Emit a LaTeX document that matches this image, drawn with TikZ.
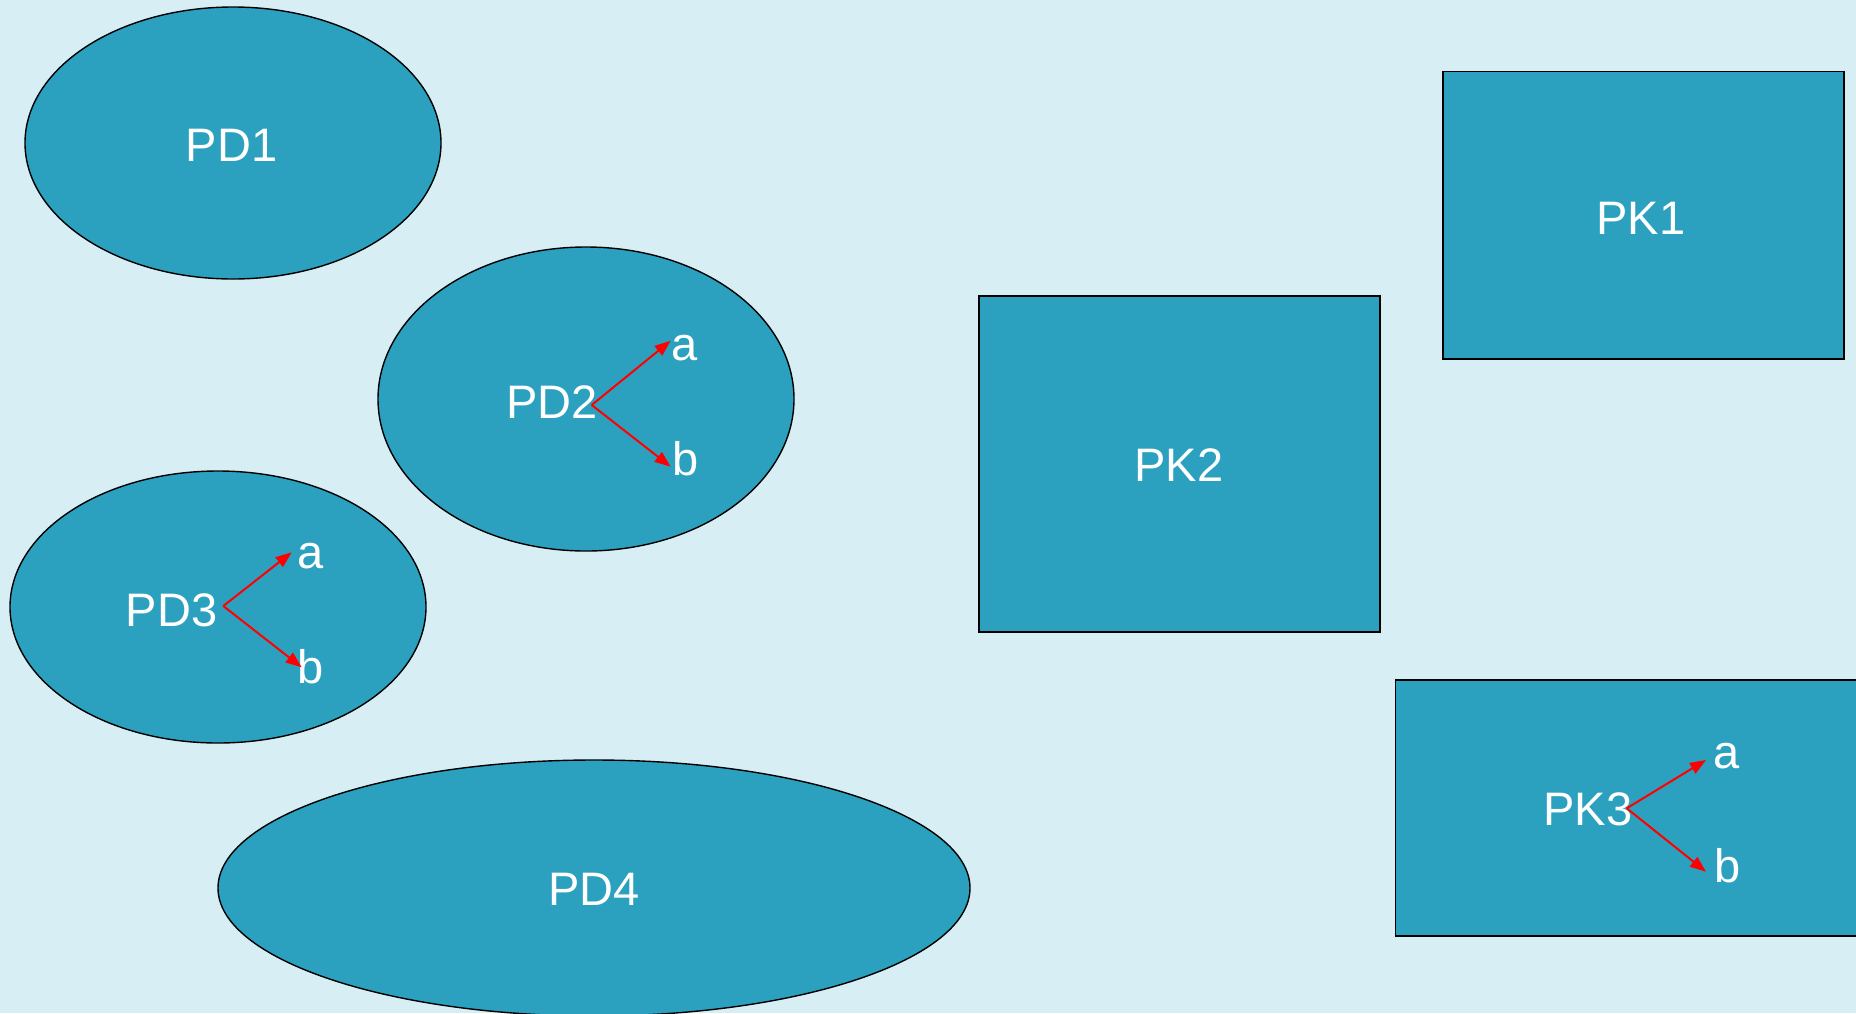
\documentclass[tikz,border=0pt]{standalone}
\usepackage{fontspec}
\setmainfont{Liberation Sans}
\usetikzlibrary{shapes.geometric,arrows.meta}
\definecolor{bgc}{RGB}{214,238,244}
\definecolor{fillc}{RGB}{44,161,191}
\begin{document}
\begin{tikzpicture}[x=1pt,y=-1pt,
  blob/.style={ellipse,draw=black,line width=1.4pt,fill=fillc,inner sep=0pt},
  boxx/.style={draw=black,line width=1.4pt,fill=fillc},
  lbl/.style={anchor=base,inner sep=0pt,text=white,font=\fontsize{47}{50}\selectfont},
  arr/.style={draw=red,line width=2pt,-{Triangle[length=16pt,width=12pt]}}]
\useasboundingbox (0,0) rectangle (1856,1013);
\fill[bgc] (0,0) rectangle (1856,1013);
\begin{scope}
\clip (0,0) rectangle (1856,1013);
% ellipses
\node[blob,minimum width=416pt,minimum height=272pt] (pd1) at (233,143) {};
\node[blob,minimum width=416pt,minimum height=304pt] (pd2) at (586,399) {};
\node[blob,minimum width=416pt,minimum height=272pt] (pd3) at (218,607) {};
\node[blob,minimum width=752pt,minimum height=256pt] (pd4) at (594,888) {};
% rectangles
\draw[boxx] (1443,71.5) rectangle (1844,359);
\draw[boxx] (979,296) rectangle (1380,632);
\draw[boxx] (1395.5,680) rectangle (1880,936);
\end{scope}
% labels
\node[lbl] (t1) at (231.7,161.7) {PD1};
\node[lbl] (t2) at (552.3,418.3) {PD2};
\node[lbl] (t3) at (171.7,626) {PD3};
\node[lbl] (t4) at (594,905) {PD4};
\node[lbl] (k1) at (1640.8,234) {PK1};
\node[lbl] (k2) at (1179,481.7) {PK2};
\node[lbl] (k3) at (1588,825.7) {PK3};
\node[lbl] (a2) at (685,360.7) {a};
\node[lbl] (b2) at (685.3,475) {b};
\node[lbl] (a3) at (310.3,568) {a};
\node[lbl] (b3) at (310.8,683.3) {b};
\node[lbl] (a5) at (1727,768.3) {a};
\node[lbl] (b5) at (1727.7,882.7) {b};
% arrow coordinates
\coordinate (s2) at (591.7,405);
\coordinate (ta2) at (670.7,340.7);
\coordinate (tb2) at (670.7,466.7);
\coordinate (s3) at (223.3,606);
\coordinate (ta3) at (291.7,552.3);
\coordinate (tb3) at (301.7,667.3);
\coordinate (s5) at (1626.7,808.3);
\coordinate (ta5) at (1706,760);
\coordinate (tb5) at (1706,871.7);
\draw[arr] (s2) -- (ta2);
\draw[arr] (s2) -- (tb2);
\draw[arr] (s3) -- (ta3);
\draw[arr] (s3) -- (tb3);
\draw[arr] (s5) -- (ta5);
\draw[arr] (s5) -- (tb5);
\end{tikzpicture}
\end{document}
